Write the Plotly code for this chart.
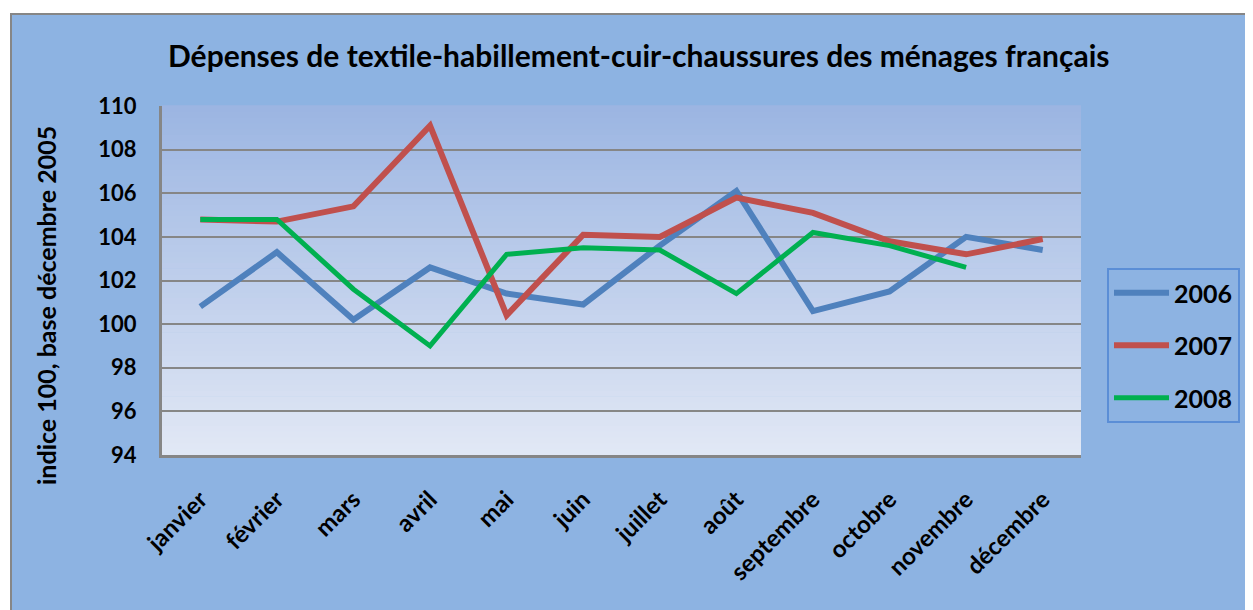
import plotly.graph_objects as go

months = ["janvier", "février", "mars", "avril", "mai", "juin", "juillet",
          "août", "septembre", "octobre", "novembre", "décembre"]
y2006 = [100.8, 103.3, 100.2, 102.6, 101.4, 100.9, 103.6, 106.1, 100.6, 101.5, 104.0, 103.4]
y2007 = [104.8, 104.7, 105.4, 109.1, 100.4, 104.1, 104.0, 105.8, 105.1, 103.8, 103.2, 103.9]
y2008 = [104.8, 104.8, 101.6, 99.0, 103.2, 103.5, 103.4, 101.4, 104.2, 103.6, 102.6, None]

title_text = "Dépenses de textile-habillement-cuir-chaussures des ménages français"
ytitle_text = "indice 100, base décembre 2005"
series = [("2006", y2006, "#4F81BD", 6), ("2007", y2007, "#C0504D", 6), ("2008", y2008, "#00B050", 5)]

FONT = "Lato"
OFF = 8  # page body margin
W, H = 1253, 610
L, R, T, B = 162, 1081, 106, 455

def px_x(p):
    return (p - L) / (R - L)

def px_y(p):
    return (B - p) / (B - T)

fig = go.Figure()
for name, vals, col, w in series:
    fig.add_trace(go.Scatter(x=months, y=vals, name=name, mode="lines",
                             line=dict(color=col, width=w), legendgroup=name))

shapes = []
shapes.append(dict(type="rect", xref="paper", yref="paper", layer="below",
                   x0=px_x(11), x1=px_x(1275), y0=px_y(640), y1=px_y(14),
                   fillcolor="#8DB3E2", line=dict(color="#868686", width=2)))
top = (155, 181, 226)
bot = (226, 232, 245)
n = 60
for k in range(n):
    t = (k + 0.5) / n
    c = tuple(round(bot[j] + (top[j] - bot[j]) * t) for j in range(3))
    shapes.append(dict(type="rect", xref="paper", yref="paper", layer="below",
                       x0=0, x1=1, y0=k / n, y1=(k + 1) / n + 0.002,
                       fillcolor="rgb(%d,%d,%d)" % c, line=dict(width=0)))

fig.update_layout(
    width=W - OFF, height=H - OFF,
    margin=dict(l=L - OFF, r=W - R, t=T - OFF, b=H - B, pad=0, autoexpand=False),
    paper_bgcolor="white",
    plot_bgcolor="rgba(0,0,0,0)",
    font=dict(family=FONT, color="black"),
    shapes=shapes,
    showlegend=True,
    legend=dict(x=px_x(1107), y=px_y(268), xanchor="left", yanchor="top",
                bgcolor="#8DB3E2", bordercolor="#5B8ED6", borderwidth=2,
                font=dict(family=FONT, size=25, color="black", weight="bold"),
                tracegroupgap=17, itemwidth=55),
    annotations=[
        dict(text="<b>" + title_text + "</b>", xref="paper", yref="paper",
             x=px_x(638), y=px_y(55), xanchor="center", yanchor="middle",
             showarrow=False, font=dict(family=FONT, size=30, color="black")),
        dict(text="<b>" + ytitle_text + "</b>", xref="paper", yref="paper",
             x=px_x(46), y=px_y(306), xanchor="center", yanchor="middle",
             textangle=-90, showarrow=False, font=dict(family=FONT, size=25, color="black")),
    ],
    xaxis=dict(type="category", range=[-0.5, len(months) - 0.5], showgrid=False,
               showline=True, linecolor="#868686",
               linewidth=3, ticks="", tickangle=-45, ticklabelstandoff=18,
               tickfont=dict(family=FONT, size=24, color="black", weight="bold"),
               zeroline=False),
    yaxis=dict(range=[94, 110], dtick=2, showgrid=True, gridcolor="#868686",
               gridwidth=2, showline=True, linecolor="#868686", linewidth=3,
               ticks="", ticklabelstandoff=18, zeroline=False,
               tickfont=dict(family=FONT, size=22, color="black", weight="bold")),
)
fig.write_html("out.html")
